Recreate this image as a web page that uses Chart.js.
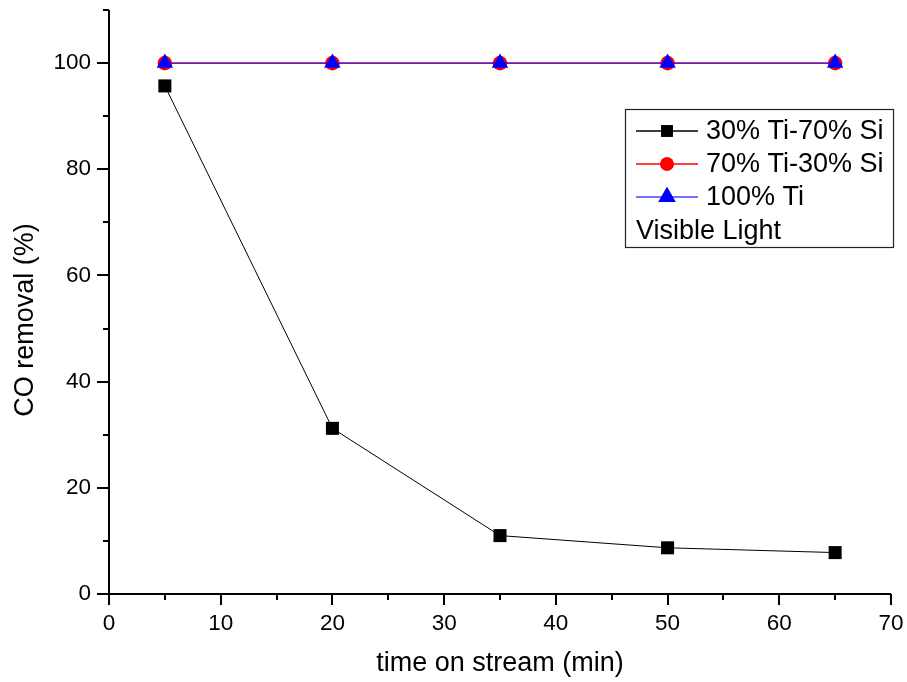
<!DOCTYPE html>
<html>
<head>
<meta charset="utf-8">
<script src="https://cdn.jsdelivr.net/npm/chart.js@4.4.1/dist/chart.umd.min.js"></script>
<style>
  html, body { margin: 0; padding: 0; background: #ffffff; }
  #wrap { width: 907px; height: 682px; }
</style>
</head>
<body>
<div id="wrap"><canvas id="c" width="907" height="682"></canvas></div>
<script>
// ---- data ----
const times = [5, 20, 35, 50, 65];
const ti30si70 = [95.7, 31.2, 11.0, 8.7, 7.8];
const ti70si30 = [100, 100, 100, 100, 100];
const ti100 = [100, 100, 100, 100, 100];
const seriesNames = ['30% Ti-70% Si', '70% Ti-30% Si', '100% Ti'];
const legendNote = 'Visible Light';
const xTitle = 'time on stream (min)';
const yTitle = 'CO removal (%)';
const xRange = [0, 70];
const yRange = [0, 110];

const FONT = '"Liberation Sans", Arial, Helvetica, sans-serif';

function pts(xs, ys) { return xs.map((x, i) => ({ x: x, y: ys[i] })); }

const datasets = [
  { label: seriesNames[0], data: pts(times, ti30si70), borderColor: '#000000', backgroundColor: '#000000',
    borderWidth: 1, pointStyle: 'rect', pointRadius: 9.2, pointBorderWidth: 0, order: 2,
    legendRadius: 8.2, legendLineWidth: 1.3 },
  { label: seriesNames[1], data: pts(times, ti70si30), borderColor: '#ff0000', backgroundColor: '#ff0000',
    borderWidth: 1.2, pointStyle: 'circle', pointRadius: 7.3, pointBorderWidth: 0, order: 1,
    legendRadius: 6.8, legendLineWidth: 1.3 },
  { label: seriesNames[2], data: pts(times, ti100), borderColor: 'rgba(0,0,255,0.55)', backgroundColor: '#0000ff',
    borderWidth: 1.8, pointStyle: 'triangle', pointRadius: 9.5, pointBorderWidth: 0, order: 0,
    legendRadius: 10, legendLineWidth: 2.2 }
];

const axesPlugin = {
  id: 'axesPlugin',
  afterDraw(chart) {
    const ctx = chart.ctx;
    const ca = chart.chartArea;
    const xs = chart.scales.x, ys = chart.scales.y;
    ctx.save();
    ctx.strokeStyle = '#000';
    ctx.lineWidth = 2;
    ctx.lineCap = 'butt';
    ctx.beginPath();
    ctx.moveTo(ca.left, ca.top);
    ctx.lineTo(ca.left, ca.bottom + 1);
    ctx.moveTo(ca.left - 1, ca.bottom);
    ctx.lineTo(ca.right, ca.bottom);
    ctx.stroke();
    ctx.beginPath();
    xs.ticks.forEach(t => {
      const px = Math.round(xs.getPixelForValue(t.value));
      const len = (t.value % 10 === 0) ? 11 : 6;
      ctx.moveTo(px, ca.bottom);
      ctx.lineTo(px, ca.bottom + len);
    });
    ys.ticks.forEach(t => {
      const py = Math.round(ys.getPixelForValue(t.value));
      const len = (t.value % 20 === 0) ? 12 : 6;
      ctx.moveTo(ca.left, py);
      ctx.lineTo(ca.left - len, py);
    });
    ctx.stroke();

    ctx.fillStyle = '#000';
    ctx.font = '27px ' + FONT;
    ctx.textAlign = 'center';
    ctx.textBaseline = 'middle';
    ctx.fillText(xTitle, (ca.left + ca.right) / 2, 664);
    ctx.save();
    ctx.translate(26, 320);
    ctx.rotate(-Math.PI / 2);
    ctx.fillText(yTitle, 0, 0);
    ctx.restore();
    ctx.restore();
  }
};

const legendPlugin = {
  id: 'legendPlugin',
  afterDraw(chart) {
    const ctx = chart.ctx;
    ctx.save();
    ctx.strokeStyle = '#222';
    ctx.lineWidth = 1.2;
    ctx.fillStyle = '#fff';
    ctx.fillRect(625, 109, 268, 138);
    ctx.strokeRect(625.5, 109.5, 268, 138);
    const rows = [131, 164, 197];
    datasets.forEach((ds, i) => {
      const y = rows[i];
      ctx.strokeStyle = ds.borderColor;
      ctx.lineWidth = ds.legendLineWidth;
      ctx.beginPath();
      ctx.moveTo(636, y);
      ctx.lineTo(698, y);
      ctx.stroke();
      ctx.fillStyle = ds.backgroundColor;
      Chart.helpers.drawPoint(ctx, { pointStyle: ds.pointStyle, radius: ds.legendRadius, borderWidth: 0, rotation: 0 }, 667, y);
      ctx.fill();
      ctx.fillStyle = '#000';
      ctx.font = '27px ' + FONT;
      ctx.textAlign = 'left';
      ctx.textBaseline = 'middle';
      ctx.fillText(ds.label, 706, y + 1);
    });
    ctx.fillStyle = '#000';
    ctx.font = '27px ' + FONT;
    ctx.textAlign = 'left';
    ctx.textBaseline = 'middle';
    ctx.fillText(legendNote, 636, 232);
    ctx.restore();
  }
};

new Chart(document.getElementById('c'), {
  type: 'line',
  data: { datasets: datasets },
  options: {
    responsive: false,
    devicePixelRatio: 1,
    animation: false,
    layout: { padding: { top: 10, right: 16, left: 0, bottom: 0 } },
    plugins: { legend: { display: false }, tooltip: { enabled: false } },
    elements: { line: { tension: 0 } },
    scales: {
      x: {
        type: 'linear', min: xRange[0], max: xRange[1],
        grid: { display: true, drawOnChartArea: false, drawTicks: true, tickLength: 10, color: 'rgba(0,0,0,0)', tickColor: 'rgba(0,0,0,0)' },
        border: { display: false },
        ticks: { stepSize: 5, autoSkip: false, maxRotation: 0, padding: 6, color: '#000',
          font: { family: FONT, size: 22.5 },
          callback: v => (v % 10 === 0 ? String(v) : '') },
        afterFit(scale) { scale.height = 88; scale.paddingLeft = 0; scale.paddingRight = 0; }
      },
      y: {
        type: 'linear', min: yRange[0], max: yRange[1],
        grid: { display: true, drawOnChartArea: false, drawTicks: true, tickLength: 10, color: 'rgba(0,0,0,0)', tickColor: 'rgba(0,0,0,0)' },
        border: { display: false },
        ticks: { stepSize: 10, autoSkip: false, padding: 8, color: '#000',
          font: { family: FONT, size: 22.5 },
          callback: v => (v % 20 === 0 ? String(v) : '') },
        afterFit(scale) { scale.width = 109; scale.paddingTop = 0; scale.paddingBottom = 0; }
      }
    }
  },
  plugins: [axesPlugin, legendPlugin]
});
</script>
</body>
</html>
